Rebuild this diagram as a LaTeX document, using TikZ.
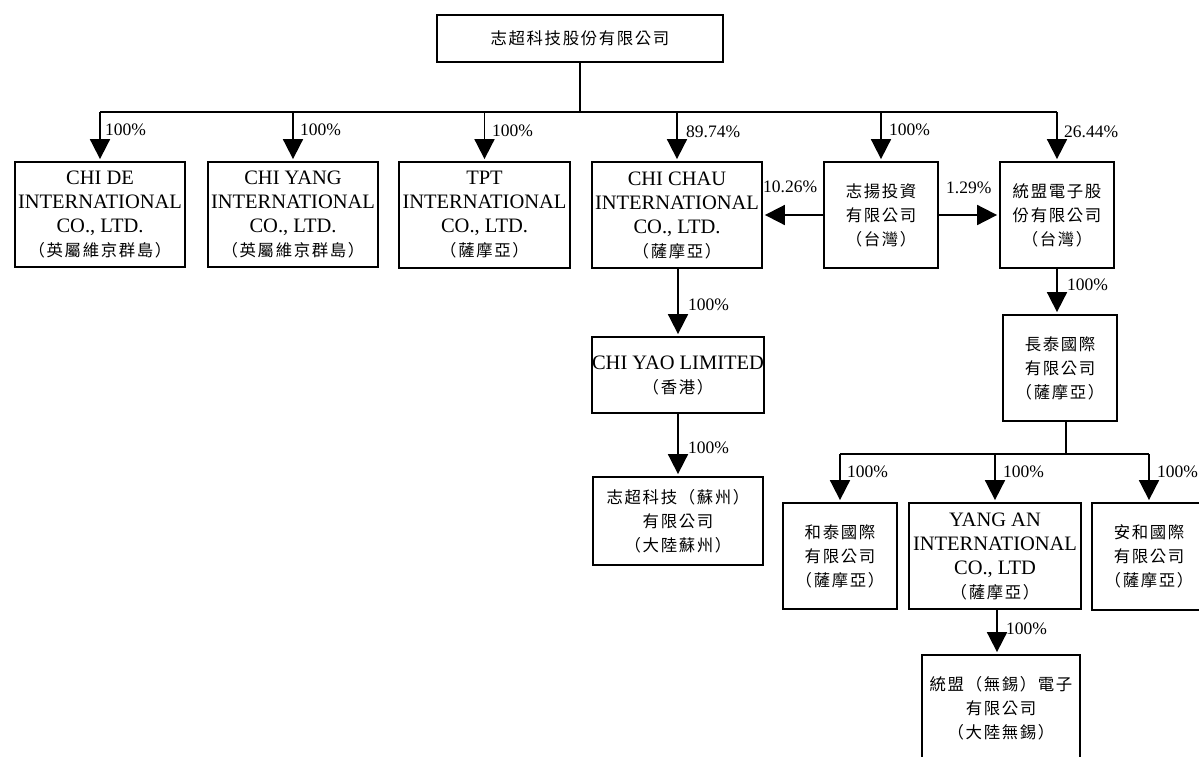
\documentclass[tikz,border=0pt]{standalone}
\usepackage{fontspec}
\setmainfont{Liberation Serif}
\newfontfamily\cjk[LetterSpace=10]{Noto Sans CJK TC}
\usetikzlibrary{arrows.meta}
\newcommand{\zh}[1]{{\cjk\fontsize{16.4}{24}\selectfont #1}}
\tikzset{
  ln/.style={line width=1.8pt, draw=black},
  arr/.style={ln, -{Triangle[width=20pt,length=20pt]}, shorten >=2pt},
  box/.style={draw, line width=1.8pt, inner sep=0pt, align=center,
    font=\fontsize{20.5}{24}\selectfont},
  pct/.style={anchor=west, inner sep=0pt, font=\fontsize{17.5}{20}\selectfont},
}
\begin{document}
\begin{tikzpicture}[x=1pt,y=-1pt]
\useasboundingbox (0,0) rectangle (1199,756);
\clip (0,0) rectangle (1199,756);

% nodes
\node[box, minimum width=286pt, minimum height=47pt] (top) at (580,38.5) {\zh{志超科技股份有限公司}};
\node[box, minimum width=170pt, minimum height=105pt] (chide) at (100,214.5) {CHI DE\\INTERNATIONAL\\CO., LTD.\\\zh{（英屬維京群島）}};
\node[box, minimum width=170pt, minimum height=105pt] (chiyang) at (293,214.5) {CHI YANG\\INTERNATIONAL\\CO., LTD.\\\zh{（英屬維京群島）}};
\node[box, minimum width=171pt, minimum height=106pt] (tpt) at (484.5,215) {TPT\\INTERNATIONAL\\CO., LTD.\\\zh{（薩摩亞）}};
\node[box, minimum width=170pt, minimum height=106pt] (chichau) at (677,215) {CHI CHAU\\INTERNATIONAL\\CO., LTD.\\\zh{（薩摩亞）}};
\node[box, minimum width=114pt, minimum height=106pt] (zhiyang) at (881,215) {\zh{志揚投資}\\\zh{有限公司}\\\zh{（台灣）}};
\node[box, minimum width=114pt, minimum height=106pt] (tongmeng) at (1057,215) {\zh{統盟電子股}\\\zh{份有限公司}\\\zh{（台灣）}};
\node[box, minimum width=170pt, minimum height=76pt] (chiyao) at (678,375) {CHI YAO LIMITED\\\zh{（香港）}};
\node[box, minimum width=170pt, minimum height=88pt] (suzhou) at (678,521) {\zh{志超科技（蘇州）}\\\zh{有限公司}\\\zh{（大陸蘇州）}};
\node[box, minimum width=114pt, minimum height=106pt] (changtai) at (1060,368) {\zh{長泰國際}\\\zh{有限公司}\\\zh{（薩摩亞）}};
\node[box, minimum width=114pt, minimum height=106pt] (hetai) at (840,556) {\zh{和泰國際}\\\zh{有限公司}\\\zh{（薩摩亞）}};
\node[box, minimum width=172pt, minimum height=106pt] (yangan) at (995,556) {YANG AN\\INTERNATIONAL\\CO., LTD\\\zh{（薩摩亞）}};
\node[box, minimum width=114pt, minimum height=107pt] (anhe) at (1149,556.5) {\zh{安和國際}\\\zh{有限公司}\\\zh{（薩摩亞）}};
\node[box, minimum width=158pt, minimum height=106pt] (wuxi) at (1001,708) {\zh{統盟（無錫）電子}\\\zh{有限公司}\\\zh{（大陸無錫）}};

% top bus
\coordinate (bus) at (580,112);
\coordinate (busL) at (100,112);
\coordinate (busR) at (1057,112);
\draw[ln] (top.south) -- (bus);
\draw[ln] (busL) -- (busR);
\foreach \n in {chide,chiyang,tpt,chichau,zhiyang,tongmeng}
  \draw[arr] (\n.north |- bus) -- (\n.north);

% side arrows
\draw[arr] (zhiyang.west) -- (zhiyang.west -| chichau.east);
\draw[arr] (zhiyang.east) -- (zhiyang.east -| tongmeng.west);

% chi chau chain
\draw[arr] (chichau.south -| chiyao.north) -- (chiyao.north);
\draw[arr] (chiyao.south) -- (suzhou.north);

% tongmeng chain
\draw[arr] (tongmeng.south) -- (tongmeng.south |- changtai.north);
\coordinate (bus2) at (1066,454);
\coordinate (bus2L) at (840,454);
\coordinate (bus2R) at (1149,454);
\draw[ln] (changtai.south -| bus2) -- (bus2);
\draw[ln] (bus2L) -- (bus2R);
\foreach \n in {hetai,yangan,anhe}
  \draw[arr] (\n.north |- bus2) -- (\n.north);
\draw[arr] (yangan.south -| 997,0) -- (wuxi.north -| 997,0);

% labels
\node[pct] (l1) at (105,130) {100\%};
\node[pct] (l2) at (300,130) {100\%};
\node[pct] (l3) at (492,131) {100\%};
\node[pct] (l4) at (686,132) {89.74\%};
\node[pct] (l5) at (889,130) {100\%};
\node[pct] (l6) at (1064,132) {26.44\%};
\node[pct] (l7) at (763,187) {10.26\%};
\node[pct] (l8) at (946,188) {1.29\%};
\node[pct] (l9) at (688,305) {100\%};
\node[pct] (l10) at (688,448) {100\%};
\node[pct] (l11) at (1067,285) {100\%};
\node[pct] (l12) at (847,472) {100\%};
\node[pct] (l13) at (1003,472) {100\%};
\node[pct] (l14) at (1157,472) {100\%};
\node[pct] (l15) at (1006,629) {100\%};
\end{tikzpicture}
\end{document}
